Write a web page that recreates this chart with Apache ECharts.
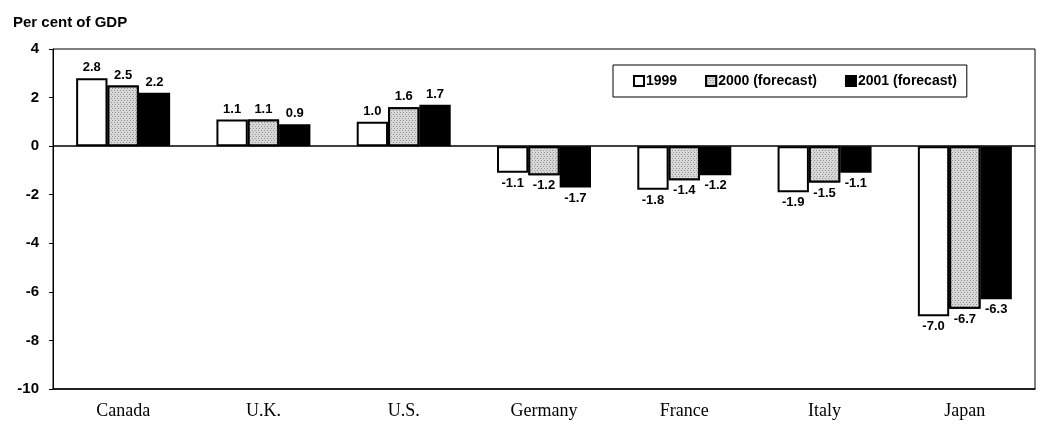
<!DOCTYPE html>
<html>
<head>
<meta charset="utf-8">
<script src="https://cdn.jsdelivr.net/npm/echarts@6/dist/echarts.min.js"></script>
<style>
  html, body { margin: 0; padding: 0; background: #fff; }
  #chart { width: 1041px; height: 431px; }
</style>
</head>
<body>
<div id="chart"></div>
<script>
// 国家类别
const countries = ['Canada', 'U.K.', 'U.S.', 'Germany', 'France', 'Italy', 'Japan']
// 各年份数值（占GDP百分比）
const values1999 = [2.8, 1.1, 1.0, -1.1, -1.8, -1.9, -7.0]
const values2000 = [2.5, 1.1, 1.6, -1.2, -1.4, -1.5, -6.7]
const values2001 = [2.2, 0.9, 1.7, -1.7, -1.2, -1.1, -6.3]
const seriesNames = ['1999', '2000 (forecast)', '2001 (forecast)']
const yTicks = [-10, -8, -6, -4, -2, 0, 2, 4]

const sans = 'Liberation Sans, Arial, sans-serif'
const serif = 'Liberation Serif, Times New Roman, serif'

const fills = ['#ffffff', '#d2d2d2', '#000000']
const allValues = [values1999, values2000, values2001]

// 灰色柱子用点状纹理模拟原图的网点
const stipple = {
  symbol: 'rect',
  symbolSize: 1,
  dashArrayX: [[1, 2], [0, 1, 1, 1]],
  dashArrayY: [1, 1],
  color: 'rgba(90,90,90,0.55)',
  backgroundColor: '#d8d8d8'
}

const makeSeries = (idx) => {
  const itemStyle = {
    color: fills[idx],
    borderColor: '#000',
    borderWidth: 2
  }
  if (idx === 1) itemStyle.decal = stipple
  return {
    name: seriesNames[idx],
    type: 'bar',
    barGap: '0%',
    barCategoryGap: '33%',
    data: allValues[idx].map(v => ({
      value: v,
      label: { position: v >= 0 ? 'top' : 'bottom' }
    })),
    itemStyle: itemStyle,
    label: {
      show: true,
      fontFamily: sans,
      fontSize: 13,
      fontWeight: 'bold',
      color: '#000',
      distance: 4,
      formatter: p => p.value.toFixed(1)
    },
    // 零值基准线
    markLine: idx === 0 ? {
      silent: true,
      symbol: 'none',
      label: { show: false },
      lineStyle: { color: '#000', type: 'solid', width: 1.5 },
      data: [{ yAxis: 0 }]
    } : undefined
  }
}

const chart = echarts.init(document.getElementById('chart'))
chart.setOption({
  animation: false,
  title: {
    text: 'Per cent of GDP',
    left: 8,
    top: 10,
    textStyle: { fontFamily: sans, fontSize: 15, fontWeight: 'bold', color: '#000' }
  },
  legend: {
    data: seriesNames,
    left: 613,
    top: 65,
    width: 360,
    icon: 'rect',
    itemWidth: 10,
    itemHeight: 10,
    itemGap: 28,
    padding: [9, 10, 9, 20],
    borderColor: '#000',
    borderWidth: 1,
    textStyle: { fontFamily: sans, fontSize: 14, fontWeight: 'bold', color: '#000', padding: [0, 0, 0, -3] }
  },
  grid: {
    left: 53,
    right: 6,
    top: 49,
    bottom: 42,
    show: true,
    borderColor: '#000',
    borderWidth: 1
  },
  xAxis: {
    type: 'category',
    data: countries,
    axisLine: { onZero: false, lineStyle: { color: '#000', width: 1.5 } },
    axisTick: { show: false },
    axisLabel: { fontFamily: serif, fontSize: 18, color: '#000', margin: 13 }
  },
  yAxis: {
    type: 'value',
    min: yTicks[0],
    max: yTicks[yTicks.length - 1],
    interval: 2,
    axisLine: { show: true, lineStyle: { color: '#000', width: 1 } },
    axisTick: { show: true, length: 4, lineStyle: { color: '#000' } },
    splitLine: { show: false },
    axisLabel: { fontFamily: sans, fontSize: 15, fontWeight: 'bold', color: '#000', margin: 14 }
  },
  series: [makeSeries(0), makeSeries(1), makeSeries(2)]
})
</script>
</body>
</html>
